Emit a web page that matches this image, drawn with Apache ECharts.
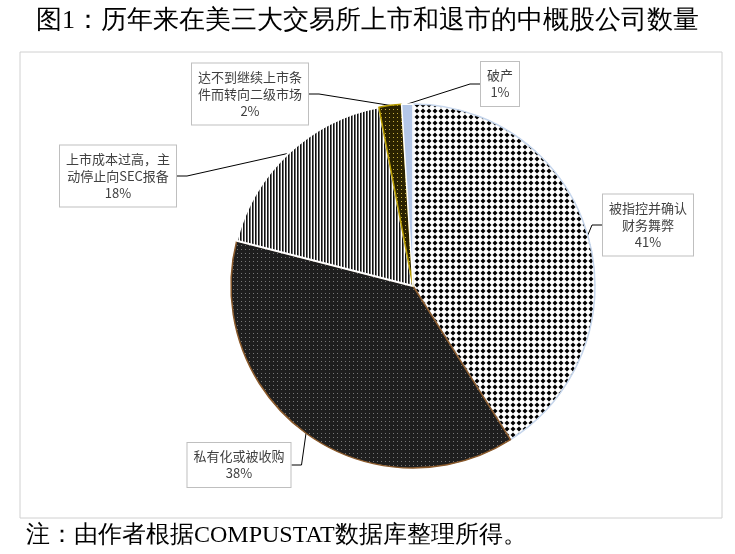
<!DOCTYPE html>
<html><head><meta charset="utf-8">
<script src="https://cdn.jsdelivr.net/npm/echarts@6/dist/echarts.min.js"></script>
<style>body{margin:0;background:#fff}#c{width:735px;height:554px}</style>
</head><body><div id="c"></div>
<script>
const categories = ['被指控并确认\n财务舞弊','私有化或被收购','上市成本过高，主\n动停止向SEC报备','达不到继续上市条\n件而转向二级市场','破产'];
const values = [41, 38, 18, 2, 1];
const titleText = '图1：历年来在美三大交易所上市和退市的中概股公司数量';
const noteText = '注：由作者根据COMPUSTAT数据库整理所得。';

function pat(w,h,draw){const c=document.createElement('canvas');c.width=w;c.height=h;const g=c.getContext('2d');draw(g);return {image:c,repeat:'repeat'};}
const pDiamond = pat(6,6,g=>{g.fillStyle='#fff';g.fillRect(0,0,6,6);g.fillStyle='#000';g.beginPath();g.moveTo(3,0.5);g.lineTo(5.5,3);g.lineTo(3,5.5);g.lineTo(0.5,3);g.closePath();g.fill();});
const pDark = pat(4,4,g=>{g.fillStyle='#1e1e1e';g.fillRect(0,0,4,4);g.fillStyle='#777';g.fillRect(1,1,1,1);});
const pStripe = pat(3,3,g=>{g.fillStyle='#fff';g.fillRect(0,0,3,3);g.fillStyle='#111';g.fillRect(0,0,1.6,3);});
const pOlive = pat(4,4,g=>{g.fillStyle='#2a2200';g.fillRect(0,0,4,4);g.fillStyle='#c8b040';g.fillRect(1,1,1,1);});
const fills=[pDiamond,pDark,pStripe,pOlive,'#b4c7e7'];
const borders=['#c6d6ec','#8b5a2b','#ffffff','#b89c00','#ffffff'];
const labelPos=[[648,225],[239,465],[118,176],[250,94],[500,84]];

const chart=echarts.init(document.getElementById('c'));
chart.setOption({
  graphic:[
    {type:'rect',shape:{x:20,y:52,width:702,height:466},style:{fill:'none',stroke:'#d0d0d0',lineWidth:1}},
    {type:'text',left:'center',top:8,style:{text:titleText,font:'26px serif',fill:'#000'}},
    {type:'text',left:26,top:524,style:{text:noteText,font:'24px serif',fill:'#000'}}
  ],
  series:[{
    type:'pie',center:[413,286],radius:182,startAngle:90,clockwise:true,
    animation:false,
    data:values.map((v,i)=>({value:v,name:categories[i],itemStyle:{color:fills[i],borderColor:borders[i],borderWidth:i===2?2:1.5}})),
    label:{formatter:'{b}\n{d}%',fontFamily:'Noto Sans CJK SC',fontSize:13,color:'#404040',lineHeight:17,
      backgroundColor:'#fff',borderColor:'#bfbfbf',borderWidth:1,padding:[5,6],align:'center'},
    labelLine:{show:true,length:20,length2:10,lineStyle:{color:'#000',width:1}},
    labelLayout:function(p){const q=labelPos[p.dataIndex];return {x:q[0],y:q[1],align:'center',verticalAlign:'middle'};}
  }]
});
</script></body></html>
